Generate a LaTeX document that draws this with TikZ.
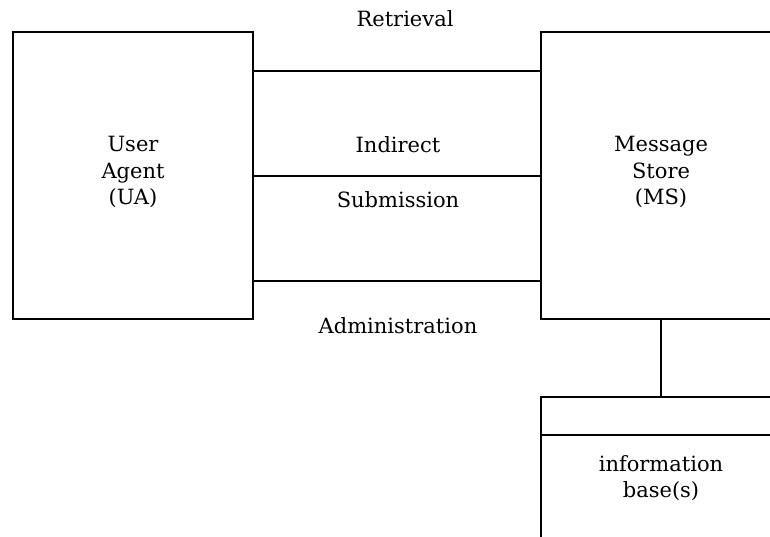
\documentclass[tikz,border=0pt]{standalone}
\usepackage{fontspec}
\setmainfont{DejaVu Serif}
\begin{document}
\begin{tikzpicture}[x=1pt,y=-1pt,
  ln/.style={line width=1.1pt},
  lbl/.style={font=\fontsize{21}{26.5}\selectfont, align=center, inner sep=0pt}]
\useasboundingbox (0,0) rectangle (770,537);
% boxes
\draw[ln] (13,32) rectangle (253,319);
\draw[ln] (770,32) -- (541,32) -- (541,319) -- (770,319);
\coordinate (msb) at (661,319);
\coordinate (ibt) at (661,397);
\draw[ln] (770,397) -- (541,397) -- (541,537);
\draw[ln] (541,435) -- (770,435);
\draw[ln] (msb) -- (ibt);
% interface lines
\coordinate (l1a) at (253,71); \coordinate (l1b) at (541,71);
\coordinate (l2a) at (253,176); \coordinate (l2b) at (541,176);
\coordinate (l3a) at (253,281); \coordinate (l3b) at (541,281);
\draw[ln] (l1a) -- (l1b);
\draw[ln] (l2a) -- (l2b);
\draw[ln] (l3a) -- (l3b);
% labels
\node[lbl] (uat) at (133,172) {User\\Agent\\(UA)};
\node[lbl] (mst) at (661,172) {Message\\Store\\(MS)};
\node[lbl] (ibx) at (661,478) {information\\base(s)};
\node[lbl] (ret) at (405,19) {Retrieval};
\node[lbl] (ind) at (398,145) {Indirect};
\node[lbl] (sub) at (398,200) {Submission};
\node[lbl] (adm) at (398,326) {Administration};
\end{tikzpicture}
\end{document}
